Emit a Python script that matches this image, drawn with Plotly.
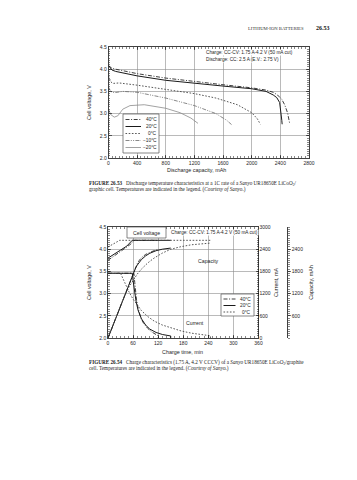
import plotly.graph_objects as go

W, H = 357, 480
SANS = "Liberation Sans, Arial, sans-serif"
NARROW = "Liberation Sans Narrow, Arial Narrow, Liberation Sans, sans-serif"
SERIF = "Liberation Serif, Times New Roman, serif"
INK = "#1e1e1e"

# ---------------- FIGURE 26.53 : discharge at different temperatures ----------
temps_53 = ["40°C", "20°C", "0°C", "−10°C", "−20°C"]

cap_40 = [0, 50, 100, 200, 400, 800, 1200, 1600, 2000, 2200, 2300, 2360, 2420, 2460, 2500, 2520, 2530]
v_40 = [4.08, 4.02, 4.00, 3.97, 3.90, 3.80, 3.72, 3.65, 3.58, 3.53, 3.48, 3.42, 3.32, 3.20, 3.02, 2.88, 2.78]

cap_20 = [0, 50, 100, 200, 400, 800, 1200, 1600, 2000, 2200, 2300, 2350, 2390, 2410, 2420, 2425]
v_20 = [4.08, 3.98, 3.95, 3.92, 3.85, 3.75, 3.68, 3.62, 3.56, 3.50, 3.42, 3.36, 3.25, 3.05, 2.85, 2.76]

cap_0 = [0, 30, 60, 150, 400, 800, 1200, 1500, 1800, 2000, 2080, 2120]
v_0 = [3.85, 3.72, 3.68, 3.69, 3.64, 3.55, 3.45, 3.35, 3.20, 3.02, 2.88, 2.76]

cap_m10 = [0, 30, 80, 200, 400, 800, 1200, 1500, 1650, 1720]
v_m10 = [3.60, 3.50, 3.47, 3.50, 3.48, 3.35, 3.18, 3.00, 2.85, 2.75]

cap_m20 = [0, 30, 80, 130, 200, 300, 500, 800, 1000, 1150, 1250]
v_m20 = [3.10, 2.98, 2.92, 2.95, 3.10, 3.18, 3.20, 3.12, 3.02, 2.90, 2.78]

x53_ticks = [0, 400, 800, 1200, 1600, 2000, 2400, 2800]
v_ticks = [2.0, 2.5, 3.0, 3.5, 4.0, 4.5]

# ---------------- FIGURE 26.54 : charge characteristics -----------------------
temps_54 = ["40°C", "20°C", "0°C"]

# cell voltage (V) vs charge time (min)
tv_40 = [0, 15, 30, 45, 55, 62, 120]
vv_40 = [3.75, 3.86, 3.95, 4.05, 4.12, 4.20, 4.20]
tv_20 = [0, 15, 30, 45, 52, 58, 150]
vv_20 = [3.80, 3.90, 3.98, 4.07, 4.13, 4.20, 4.20]
tv_0 = [0, 10, 20, 28, 245]
vv_0 = [4.05, 4.10, 4.15, 4.20, 4.20]

# current (mA)
ti_40 = [0, 62, 64, 66, 68, 72, 78, 85, 95, 105, 115, 120, 120]
ii_40 = [1750, 1750, 1500, 1250, 1050, 800, 560, 400, 260, 160, 90, 60, 0]
ti_20 = [0, 58, 60, 63, 67, 72, 80, 90, 100, 115, 130, 150, 150]
ii_20 = [1750, 1750, 1550, 1300, 1000, 750, 520, 350, 240, 150, 95, 55, 0]
ti_0 = [0, 30, 40, 50, 60, 70, 80, 95, 110, 130, 150, 175, 200, 225, 245, 245]
ii_0 = [1750, 1750, 1500, 1250, 1050, 880, 740, 580, 460, 350, 270, 190, 130, 90, 60, 0]

# capacity (mAh)
tc_40 = [0, 62, 66, 70, 75, 80, 90, 100, 110, 120]
cc_40 = [0, 1808, 1920, 2010, 2100, 2170, 2260, 2320, 2360, 2390]
tc_20 = [0, 58, 62, 66, 70, 75, 80, 90, 100, 115, 130, 150]
cc_20 = [0, 1692, 1800, 1890, 1970, 2050, 2120, 2220, 2290, 2360, 2400, 2430]
tc_0 = [0, 30, 40, 50, 60, 70, 80, 95, 110, 130, 150, 175, 200, 225, 245]
cc_0 = [0, 875, 1146, 1375, 1567, 1728, 1863, 2028, 2158, 2295, 2398, 2470, 2520, 2550, 2565]

t_ticks = [0, 60, 120, 180, 240, 300, 360]
ma_ticks = [0, 600, 1200, 1800, 2400, 3000]
cap_axis_ticks = [600, 1200, 1800, 2400]

# ---------------- styles -------------------------------------------------------
style53 = {
    "40°C": dict(color="#2a2a2a", width=0.9, dash="4px,1.6px,1px,1.6px"),
    "20°C": dict(color="#1a1a1a", width=1.0, dash="solid"),
    "0°C": dict(color="#444444", width=0.9, dash="1.6px,1.6px"),
    "−10°C": dict(color="#6a6a6a", width=0.8, dash="4px,1.3px,1px,1.3px,1px,1.3px"),
    "−20°C": dict(color="#8a8a8a", width=0.8, dash="solid"),
}


def px(x):
    return x / W


def py(y):
    return 1 - y / H


fig = go.Figure()

series53 = [(cap_40, v_40), (cap_20, v_20), (cap_0, v_0), (cap_m10, v_m10), (cap_m20, v_m20)]
for name, (xs, ys) in zip(temps_53, series53):
    fig.add_trace(go.Scatter(x=xs, y=ys, mode="lines", name=name, line=style53[name],
                             xaxis="x", yaxis="y", showlegend=False, hoverinfo="skip"))

volt54 = [(tv_40, vv_40), (tv_20, vv_20), (tv_0, vv_0)]
curr54 = [(ti_40, ii_40), (ti_20, ii_20), (ti_0, ii_0)]
capa54 = [(tc_40, cc_40), (tc_20, cc_20), (tc_0, cc_0)]
for name, (xs, ys) in zip(temps_54, volt54):
    fig.add_trace(go.Scatter(x=xs, y=ys, mode="lines", line=style53[name],
                             xaxis="x2", yaxis="y2", showlegend=False, hoverinfo="skip"))
for name, (xs, ys) in zip(temps_54, curr54):
    fig.add_trace(go.Scatter(x=xs, y=ys, mode="lines", line=style53[name],
                             xaxis="x2", yaxis="y3", showlegend=False, hoverinfo="skip"))
for name, (xs, ys) in zip(temps_54, capa54):
    fig.add_trace(go.Scatter(x=xs, y=ys, mode="lines", line=style53[name],
                             xaxis="x2", yaxis="y4", showlegend=False, hoverinfo="skip"))

GRID = "#8c8c8c"
TICKF = dict(size=5, family=SANS, color=INK)
TITLEF = dict(size=5.4, family=SANS, color=INK)


def base_axis(**kw):
    d = dict(showline=True, linecolor="#111", linewidth=0.8, ticks="inside", ticklen=3,
             tickwidth=0.6, tickcolor="#111", showgrid=True, gridcolor=GRID, gridwidth=0.6,
             zeroline=False, tickfont=TICKF, fixedrange=True, automargin=False)
    d.update(kw)
    return d


def minor(dt, t0, where="inside"):
    return dict(dtick=dt, tick0=t0, ticks=where, ticklen=1.8, tickcolor="#111",
                tickwidth=0.5, showgrid=False)


# plot areas (pixels)
P1 = dict(l=108.5, r=309, t=47, b=158)
P2 = dict(l=108, r=258.5, t=227, b=338)

fig.update_layout(
    width=W, height=H, margin=dict(l=0, r=0, t=0, b=0),
    paper_bgcolor="white", plot_bgcolor="white", showlegend=False,
    xaxis=base_axis(domain=[px(P1["l"]), px(P1["r"])], range=[0, 2800], anchor="y",
                    tickvals=x53_ticks, mirror="ticks", minor=minor(50, 0)),
    yaxis=base_axis(domain=[py(P1["b"]), py(P1["t"])], range=[2.0, 4.5], anchor="x",
                    tickvals=v_ticks, tickformat=".1f", mirror="ticks", minor=minor(0.05, 2.0),
                    title=dict(text="Cell voltage, V", font=TITLEF, standoff=7)),
    xaxis2=base_axis(domain=[px(P2["l"]), px(P2["r"])], range=[0, 360], anchor="y2",
                     tickvals=t_ticks, mirror="ticks", minor=minor(10, 0)),
    yaxis2=base_axis(domain=[py(P2["b"]), py(P2["t"])], range=[2.0, 4.5], anchor="x2",
                     tickvals=v_ticks, tickformat=".1f", mirror=True, minor=minor(0.05, 2.0),
                     title=dict(text="Cell voltage, V", font=TITLEF, standoff=7)),
    yaxis3=base_axis(overlaying="y2", anchor="x2", side="right", range=[0, 3000],
                     tickvals=ma_ticks, showgrid=False, showline=False, minor=minor(60, 0),
                     title=dict(text="Current, mA", font=TITLEF, standoff=4)),
    yaxis4=base_axis(overlaying="y2", anchor="free", position=px(287), side="right",
                     range=[0, 3000], tickvals=cap_axis_ticks, showgrid=False, ticks="outside",
                     minor=minor(60, 0, "outside"),
                     title=dict(text="Capacity, mAh", font=TITLEF, standoff=6)),
)

ann = []
shapes = []


def text(x, y, s, size=5.0, xa="center", ya="middle", family=SANS, color=INK, bg=None):
    d = dict(x=px(x), y=py(y), xref="paper", yref="paper", text=s, showarrow=False,
             xanchor=xa, yanchor=ya, borderpad=0,
             font=dict(size=size, family=family, color=color))
    if bg:
        d["bgcolor"] = bg
    ann.append(d)


def seg(x0, y0, x1, y1, style):
    shapes.append(dict(type="line", xref="paper", yref="paper", x0=px(x0), y0=py(y0),
                       x1=px(x1), y1=py(y1), line=dict(color=style["color"], width=style["width"],
                                                       dash=style["dash"])))


def box(x0, y0, x1, y1, color="#555", fill="white", width=0.7):
    shapes.append(dict(type="rect", xref="paper", yref="paper", x0=px(x0), y0=py(y0),
                       x1=px(x1), y1=py(y1), line=dict(color=color, width=width),
                       fillcolor=fill, layer="above"))


# header
text(305, 28, "LITHIUM-ION BATTERIES", size=4.7, xa="right", family=SERIF, color="#333")
text(331, 28, "<b>26.53</b>", size=6, xa="right", family=SERIF, color="#111")

# ---- figure 26.53 texts
text(196, 170, "Discharge capacity, mAh", size=5.4)
text(205, 53, "Charge: CC-CV: 1.75 A-4.2 V (50 mA cut)", size=4.7, xa="left", bg="white")
text(205, 59.5, "Discharge: CC: 2.5 A (E.V.: 2.75 V)", size=4.7, xa="left", bg="white")

box(123, 114, 159, 153)
ys53 = [119.5, 126.5, 133.5, 140.5, 147.5]
for name, yy in zip(temps_53, ys53):
    seg(125.5, yy, 141, yy, style53[name])
    text(157.5, yy, name, size=4.8, xa="right")

text(88, 183, "<b>FIGURE 26.53</b>   Discharge temperature characteristics at a 1C rate of a <i>Sanyo</i> "
     "UR18650E LiCoO<sub>2</sub>/", size=5.2, xa="left", family=SERIF, color="#222")
text(88, 189.5, "graphic cell. Temperatures are indicated in the legend. (<i>Courtesy of Sanyo.</i>)",
     size=5.2, xa="left", family=SERIF, color="#222")

# ---- figure 26.54 texts
text(183, 352, "Charge time, min", size=5.4)
box(127, 227, 166, 238, color="#555")
text(146.5, 232.5, "Cell voltage", size=5.2)
text(170, 232.5, "Charge: CC-CV: 1.75 A-4.2 V (50 mA cut)", size=4.7, xa="left",
     family=NARROW, bg="white")
text(208, 261, "Capacity", size=5.2)
text(195, 323, "Current", size=5.2)

box(221, 294, 254, 316)
ys54 = [299, 305.5, 312]
for name, yy in zip(temps_54, ys54):
    seg(223.5, yy, 235.5, yy, style53[name])
    text(252, yy, name, size=4.8, xa="right")

text(88, 362, "<b>FIGURE 26.54</b>   Charge characteristics (1.75 A, 4.2 V CCCV) of a <i>Sanyo</i> "
     "UR18650E LiCoO<sub>2</sub>/graphite", size=5.2, xa="left", family=SERIF, color="#222")
text(88, 368.5, "cell. Temperatures are indicated in the legend. (<i>Courtesy of Sanyo.</i>)",
     size=5.2, xa="left", family=SERIF, color="#222")

fig.update_layout(annotations=ann, shapes=shapes)

fig.write_html("out.html", config={"displayModeBar": False, "staticPlot": True},
               post_script="document.body.style.margin='0';document.body.style.overflow='hidden';")
